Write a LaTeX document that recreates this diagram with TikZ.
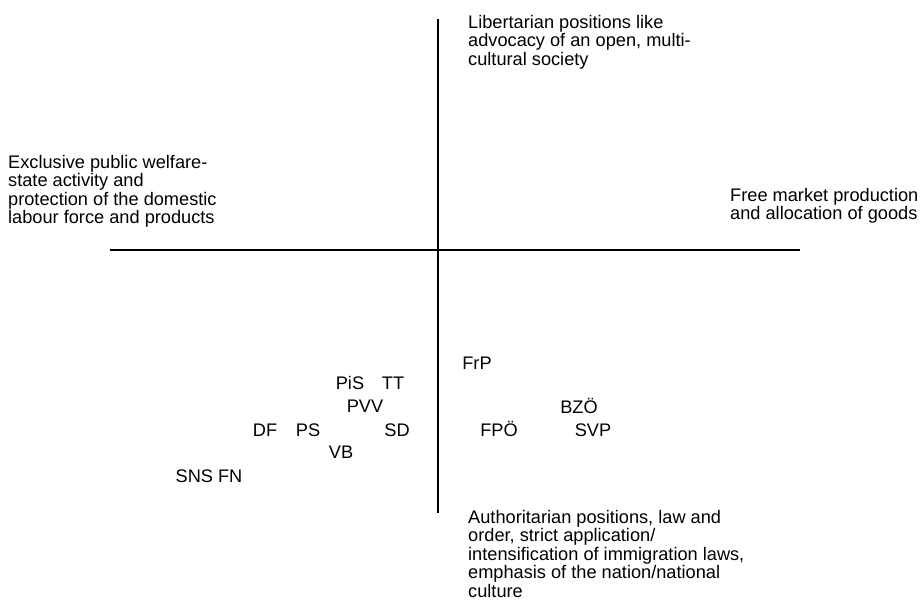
\documentclass[tikz,border=0pt]{standalone}
\usepackage{fontspec}
\setmainfont{Liberation Sans}
\usepackage{tikz}

\tikzset{
    axislabel/.style={anchor=north west, inner sep=0pt, align=left, font=\fontsize{18.2}{18.5}\selectfont},
    party/.style={inner sep=0pt, font=\fontsize{18.2}{18.5}\selectfont}
}

\begin{document}
\begin{tikzpicture}[x=1pt, y=-1pt]
        \useasboundingbox (0, 0) rectangle (920, 605);
        \coordinate (top) at (438, 19);
        \coordinate (bottom) at (438, 513);
        \coordinate (left) at (110, 250);
        \coordinate (right) at (800, 250);
        \draw[line width=1.3pt] (top) -- (bottom);
        \draw[line width=1.3pt] (left) -- (right);
        \node[axislabel] (libertarian) at (468, 15) {Libertarian positions like\\advocacy of an open, multi-\\cultural society};
        \node[axislabel] (welfare) at (8, 155) {Exclusive public welfare-\\state activity and\\protection of the domestic\\labour force and products};
        \node[axislabel] (market) at (730, 188) {Free market production\\and allocation of goods};
        \node[axislabel] (authoritarian) at (468, 510) {Authoritarian positions, law and\\order, strict application/\\intensification of immigration laws,\\emphasis of the nation/national\\culture};
        \node[party] (pis) at (350, 383) {PiS};
        \node[party] (tt) at (393, 383) {TT};
        \node[party] (pvv) at (365, 406) {PVV};
        \node[party] (df) at (265, 430) {DF};
        \node[party] (ps) at (308, 430) {PS};
        \node[party] (sd) at (397, 430) {SD};
        \node[party] (vb) at (341, 452) {VB};
        \node[party] (snsfn) at (209, 476) {SNS FN};
        \node[party] (frp) at (477, 363) {FrP};
        \node[party] (bzo) at (579, 406) {BZÖ};
        \node[party] (fpo) at (499, 429) {FPÖ};
        \node[party] (svp) at (593, 430) {SVP};
    \end{tikzpicture}
\end{document}
